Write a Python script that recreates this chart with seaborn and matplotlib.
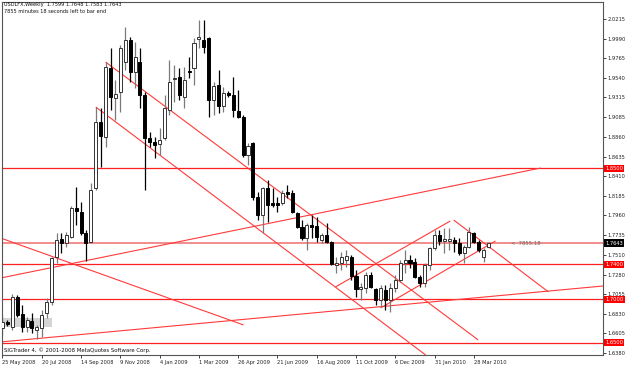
import numpy as np
import pandas as pd
import matplotlib
matplotlib.use("Agg")
import matplotlib.pyplot as plt
import seaborn as sns

# ---- weekly OHLC of USDLFX ----
opens = [1.6668, 1.6736, 1.6679, 1.7023, 1.6828, 1.6679, 1.6748, 1.6645, 1.6668, 1.6840,
         1.6966, 1.7483, 1.7689, 1.7643, 1.7712, 1.8045, 1.7999, 1.7758, 1.7655, 1.8275,
         1.9032, 1.8860, 1.9652, 1.9308, 1.9377, 1.9721, 1.9974, 1.9606, 1.9721, 1.9342,
         1.8849, 1.8803, 1.8780, 1.8849, 1.9170, 1.9526, 1.9549, 1.9319, 1.9618, 1.9652,
         1.9985, 1.9974, 1.9997, 1.9285, 1.9457, 1.9216, 1.9365, 1.9342, 1.9159, 1.9090,
         1.8654, 1.8791, 1.8171, 1.7965, 1.8275, 1.8103, 1.8103, 1.8103, 1.8229, 1.8217,
         1.7988, 1.7827, 1.7701, 1.7850, 1.7839, 1.7678, 1.7735, 1.7655, 1.7391, 1.7414,
         1.7448, 1.7483, 1.7265, 1.7115, 1.7127, 1.7276, 1.7115, 1.6989, 1.7104, 1.6989,
         1.7127, 1.7219, 1.7414, 1.7448, 1.7425, 1.7253, 1.7184, 1.7391, 1.7586, 1.7735,
         1.7666, 1.7666, 1.7678, 1.7643, 1.7529, 1.7597, 1.7758, 1.7655, 1.7483, 1.7599]
highs = [1.6817, 1.6759, 1.7058, 1.7046, 1.6932, 1.6794, 1.6840, 1.6702, 1.6874, 1.7012,
         1.7483, 1.7758, 1.7758, 1.7770, 1.8068, 1.8286, 1.8114, 1.7793, 1.8332, 1.9205,
         1.9193, 1.9721, 1.9882, 1.9515, 1.9916, 2.0123, 2.0008, 1.9951, 1.9882, 1.9377,
         1.8918, 1.8860, 1.8964, 1.9342, 1.9744, 1.9687, 1.9652, 1.9664, 1.9779, 1.9997,
         2.0203, 2.0203, 2.0008, 1.9492, 1.9629, 1.9434, 1.9388, 1.9549, 1.9400, 1.9113,
         1.8791, 1.8803, 1.8229, 1.8286, 1.8367, 1.8275, 1.8171, 1.8252, 1.8309, 1.8252,
         1.7999, 1.7907, 1.7873, 1.7965, 1.7942, 1.7758, 1.7873, 1.7666, 1.7483, 1.7540,
         1.7563, 1.7506, 1.7333, 1.7184, 1.7310, 1.7310, 1.7127, 1.7161, 1.7161, 1.7184,
         1.7276, 1.7448, 1.7563, 1.7506, 1.7471, 1.7276, 1.7414, 1.7597, 1.7793, 1.7793,
         1.7816, 1.7816, 1.7712, 1.7701, 1.7620, 1.7827, 1.7770, 1.7678, 1.7586, 1.7648]
lows = [1.6587, 1.6690, 1.6645, 1.6794, 1.6622, 1.6622, 1.6610, 1.6541, 1.6564, 1.6782,
        1.6932, 1.7414, 1.7529, 1.7597, 1.7701, 1.7850, 1.7735, 1.7437, 1.7643, 1.8252,
        1.8516, 1.8745, 1.9170, 1.9055, 1.9147, 1.9629, 1.9492, 1.9423, 1.9193, 1.8252,
        1.8745, 1.8619, 1.8654, 1.8826, 1.9113, 1.9262, 1.9285, 1.9193, 1.9538, 1.9457,
        1.9882, 1.9825, 1.9090, 1.9113, 1.9136, 1.9147, 1.9319, 1.9090, 1.9078, 1.8631,
        1.8539, 1.8137, 1.7907, 1.7758, 1.7884, 1.8057, 1.7999, 1.8080, 1.8160, 1.7988,
        1.7816, 1.7678, 1.7563, 1.7701, 1.7655, 1.7643, 1.7643, 1.7391, 1.7299, 1.7333,
        1.7368, 1.7219, 1.7023, 1.6989, 1.7069, 1.7127, 1.6932, 1.6909, 1.6874, 1.6851,
        1.7081, 1.7196, 1.7299, 1.7356, 1.7242, 1.7138, 1.7138, 1.7333, 1.7563, 1.7620,
        1.7529, 1.7563, 1.7540, 1.7506, 1.7414, 1.7586, 1.7643, 1.7540, 1.7425, 1.7583]
closes = [1.6736, 1.6713, 1.7023, 1.6817, 1.6679, 1.6759, 1.6668, 1.6679, 1.6817, 1.6966,
          1.7471, 1.7678, 1.7643, 1.7735, 1.8045, 1.8011, 1.7758, 1.7643, 1.8252, 1.9032,
          1.8872, 1.9664, 1.9319, 1.9354, 1.9882, 1.9974, 1.9606, 1.9779, 1.9342, 1.8849,
          1.8803, 1.8768, 1.8826, 1.9193, 1.9492, 1.9538, 1.9342, 1.9515, 1.9606, 1.9939,
          2.0008, 1.9893, 1.9285, 1.9446, 1.9216, 1.9365, 1.9342, 1.9170, 1.9090, 1.8654,
          1.8757, 1.8171, 1.7965, 1.8275, 1.8080, 1.8080, 1.8080, 1.8217, 1.8206, 1.7999,
          1.7827, 1.7701, 1.7850, 1.7827, 1.7712, 1.7735, 1.7655, 1.7402, 1.7414, 1.7483,
          1.7494, 1.7265, 1.7115, 1.7138, 1.7276, 1.7138, 1.6989, 1.7127, 1.6989, 1.7127,
          1.7219, 1.7414, 1.7448, 1.7414, 1.7253, 1.7184, 1.7391, 1.7586, 1.7735, 1.7666,
          1.7689, 1.7689, 1.7643, 1.7529, 1.7597, 1.7770, 1.7655, 1.7563, 1.7563, 1.7643]

# x tick labels every 8 weeks
date_labels = ["25 May 2008", "20 Jul 2008", "14 Sep 2008", "9 Nov 2008", "4 Jan 2009",
               "1 Mar 2009", "26 Apr 2009", "21 Jun 2009", "16 Aug 2009", "11 Oct 2009",
               "6 Dec 2009", "31 Jan 2010", "28 Mar 2010"]
price_ticks = [2.0215, 1.9990, 1.9765, 1.9540, 1.9315, 1.9085, 1.8860, 1.8635, 1.8410,
               1.8185, 1.7960, 1.7735, 1.7510, 1.7280, 1.7055, 1.6830, 1.6605, 1.6380]

# horizontal support / resistance levels
levels = [1.8500, 1.7400, 1.7000, 1.6500]

# trend lines: start bar, start price, end bar, end price
tl_x0 = [-0.4, -0.4, -0.4, 21.0, 19.0, 91.9, 67.8, 77.0]
tl_p0 = [1.7701, 1.7241, 1.6507, 1.9721, 1.9205, 1.7907, 1.7138, 1.6897]
tl_x1 = [49.1, 109.6, 122.4, 96.9, 86.2, 111.2, 91.2, 100.4]
tl_p1 = [1.6702, 1.8504, 1.7150, 1.6530, 1.6357, 1.7081, 1.7896, 1.7666]

# gray box object
box_x = [0.2, 10.0]
box_p = [1.6679, 1.6782]

df = pd.DataFrame({"bar": np.arange(len(opens)), "open": opens, "high": highs,
                   "low": lows, "close": closes})
df["bull"] = df["close"] >= df["open"]

sns.set_theme(style="white")
plt.rcParams["font.family"] = ["DejaVu Sans"]

W, H = 625, 365
fig = plt.figure(figsize=(W / 100, H / 100), dpi=100)
fig.patch.set_facecolor("white")
ax = fig.add_axes([2 / W, 10 / H, 601 / W, 353 / H])
ax.set_facecolor("white")

# gray rectangle
ax.fill_between(box_x, box_p[0], box_p[1], color="#d4d4d4", lw=0, zorder=0)

# horizontal levels
for lv in levels:
    ax.axhline(lv, color="#ff2020", lw=0.9, zorder=1)
last = closes[-1]
ax.axhline(last, color="#f07a7a", lw=1.2, zorder=1)

# trend lines
for x0, p0, x1, p1 in zip(tl_x0, tl_p0, tl_x1, tl_p1):
    ax.plot([x0, x1], [p0, p1], color="#ff3a3a", lw=0.8, zorder=1, solid_capstyle="butt")

# candles
bw = 0.62
for _, r in df.iterrows():
    if r["bull"]:
        wick_c, face, edge = "#7a7a7a", "white", "#333333"
    else:
        wick_c, face, edge = "#000000", "black", "#000000"
    ax.vlines(r["bar"], r["low"], r["high"], color=wick_c, lw=0.9, zorder=2)
    lo = min(r["open"], r["close"])
    hgt = max(abs(r["close"] - r["open"]), 0.0001)
    ax.bar(r["bar"], hgt, bottom=lo, width=bw, color=face, edgecolor=edge,
           linewidth=0.7, zorder=3)

px_per_bar = 4.91
ax.set_xlim(-0.1, -0.1 + 601 / px_per_bar)
ax.set_ylim(1.63574, 2.04102)

# axes styling
for s in ["left", "right", "top", "bottom"]:
    ax.spines[s].set_color("#555555")
    ax.spines[s].set_linewidth(0.8)
ax.yaxis.tick_right()
ax.set_yticks(price_ticks)
ax.set_yticklabels([f"{v:.4f}" for v in price_ticks])
ax.set_xticks(np.arange(0, 8 * len(date_labels), 8))
ax.set_xticklabels(date_labels, ha="left")
ax.tick_params(axis="y", direction="out", length=2.5, width=0.6, pad=1.0,
               labelsize=3.7, colors="#222222", right=True, left=False)
ax.tick_params(axis="x", direction="out", length=2.5, width=0.6, pad=1.0,
               labelsize=3.7, colors="#222222", bottom=True)
for lab in ax.get_xticklabels():
    lab.set_horizontalalignment("left")

# right axis price boxes
ytr = ax.get_yaxis_transform()
for lv in levels:
    ax.text(1.004, lv, f"{lv:.4f}", transform=ytr, fontsize=3.7, color="white",
            va="center", ha="left",
            bbox=dict(boxstyle="square,pad=0.2", fc="#ff0000", ec="none"), zorder=5,
            clip_on=False)
ax.text(1.004, last, f"{last:.4f}", transform=ytr, fontsize=3.7, color="white",
        va="center", ha="left",
        bbox=dict(boxstyle="square,pad=0.2", fc="#000000", ec="none"), zorder=5,
        clip_on=False)

# texts
fig.text(4 / W, 1 - 2 / H, f"USDLFX,Weekly  {opens[-1]:.4f} {highs[-1]:.4f} {lows[-1]:.4f} {closes[-1]:.4f}",
         fontsize=3.6, color="#111111", va="top", ha="left")
fig.text(4 / W, 1 - 9 / H, "7855 minutes 18 seconds left to bar end",
         fontsize=3.6, color="#111111", va="top", ha="left")
ax.text(103.5, last, "<  7855:18", fontsize=3.8, color="#666666", va="center", ha="left")
fig.text(4 / W, 1 - 350 / H, "SIGTrader 4, \u00a9 2001-2008 MetaQuotes Software Corp.",
         fontsize=3.9, color="#111111", va="center", ha="left")

fig.savefig("out.png", dpi=100, facecolor="white")
